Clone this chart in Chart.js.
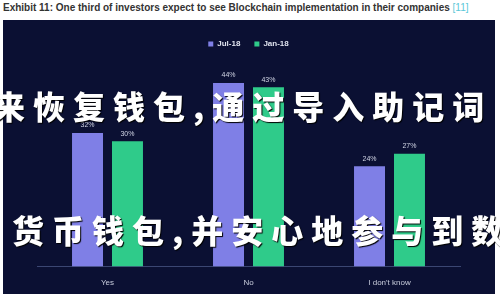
<!DOCTYPE html>
<html>
<head>
<meta charset="utf-8">
<script src="https://cdn.jsdelivr.net/npm/chart.js@4.4.0/dist/chart.umd.min.js"></script>
<style>
  body { margin: 0; background: #fff; width: 500px; height: 300px; overflow: hidden; position: relative; font-family: "Liberation Sans", Arial, sans-serif; }
  #titulo { position: absolute; left: 3px; top: 2px; font-size: 10px; font-weight: bold; color: #333; white-space: nowrap; }
  #titulo span { color: #5bc8d8; font-weight: normal; }
  #panel { position: absolute; left: 3px; top: 20px; width: 492px; height: 274px; background: #0b1033; }
  .marca { position: absolute; color: #fff; font-family: "Noto Sans CJK SC"; font-weight: 900; font-size: 32px; letter-spacing: 8px; white-space: nowrap; line-height: 1; text-shadow: 1px 1px 1px #000; }
</style>
</head>
<body>
<div id="titulo">Exhibit 11: One third of investors expect to see Blockchain implementation in their companies <span>[11]</span></div>
<div id="panel"><canvas id="inversores" width="492" height="274"></canvas></div>
<div class="marca" style="left:-7px; top:89px;">来恢复钱包,通过导入助记词</div>
<div class="marca" style="left:12px; top:213px;">货币钱包,并安心地参与到数</div>

<script>
// datos
var categorias = ['Yes', 'No', "I don't know"];
var serieJul18 = [32, 44, 24];
var serieJan18 = [30, 43, 27];

/**
 * Plugin que escribe el porcentaje encima de cada barra
 */
var etiquetasPlugin = {
    id: 'etiquetas',
    afterDatasetsDraw: function(chart) {
        var ctx = chart.ctx;
        ctx.save();
        ctx.fillStyle = '#d0d4e4';
        ctx.font = '7px "Liberation Sans", Arial, sans-serif';
        ctx.textAlign = 'center';
        ctx.textBaseline = 'bottom';
        chart.data.datasets.forEach(function(ds, i) {
            chart.getDatasetMeta(i).data.forEach(function(bar, j) {
                ctx.fillText(ds.data[j] + '%', bar.x, bar.y - 4);
            });
        });
        ctx.restore();
    }
};

var ctx = document.getElementById('inversores').getContext('2d');
var chartInversores = new Chart(ctx, {
    type: 'bar',
    data: {
        labels: categorias,
        datasets: [{
            label: 'Jul-18',
            data: serieJul18,
            backgroundColor: '#7f7fe6',
            categoryPercentage: 0.567,
            barPercentage: 0.775
        }, {
            label: 'Jan-18',
            data: serieJan18,
            backgroundColor: '#2fcb8a',
            categoryPercentage: 0.567,
            barPercentage: 0.775
        }]
    },
    options: {
        responsive: false,
        animation: false,
        layout: {
            padding: { left: 34, right: 35, top: 6, bottom: 2 }
        },
        scales: {
            x: {
                grid: { display: false },
                border: { display: true, color: '#3b4672' },
                ticks: {
                    color: '#c8ccdc',
                    font: { size: 8, family: '"Liberation Sans", Arial, sans-serif' },
                    padding: 4
                }
            },
            y: {
                display: false,
                min: 0,
                max: 50
            }
        },
        plugins: {
            legend: {
                position: 'top',
                labels: {
                    color: '#e0e3ee',
                    boxWidth: 5,
                    boxHeight: 5,
                    padding: 14,
                    font: { size: 8, weight: 'bold', family: '"Liberation Sans", Arial, sans-serif' }
                }
            },
            tooltip: { enabled: false }
        }
    },
    plugins: [etiquetasPlugin]
});
</script>
</body>
</html>
